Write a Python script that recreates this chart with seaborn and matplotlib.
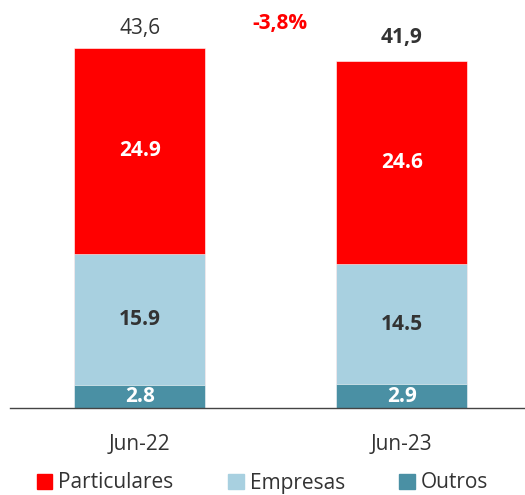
import pandas as pd
import matplotlib.pyplot as plt
import seaborn as sns
from matplotlib.patches import Patch

periods = ['Jun-22', 'Jun-23']
particulares = [24.9, 24.6]
empresas = [15.9, 14.5]
outros = [2.8, 2.9]
totals = ['43,6', '41,9']
change = '-3,8%'

sns.set_style('white')
plt.rcParams['font.family'] = ['Open Sans', 'DejaVu Sans']

red, light, teal, dark = '#FF0000', '#A8D0E0', '#4A90A4', '#333333'

df = pd.DataFrame({'period': periods, 'Particulares': particulares,
                   'Empresas': empresas, 'Outros': outros})
df['lvl2'] = df['Empresas'] + df['Outros']
df['lvl3'] = df['lvl2'] + df['Particulares']

fig = plt.figure(figsize=(5.25, 4.95), dpi=100)
ax = fig.add_axes([10 / 525, 87 / 495, 515 / 525, 408 / 495])

sns.barplot(data=df, x='period', y='lvl3', color=red, width=0.5, ax=ax,
            saturation=1, edgecolor='white', linewidth=0.4)
sns.barplot(data=df, x='period', y='lvl2', color=light, width=0.5, ax=ax,
            saturation=1, edgecolor='white', linewidth=0.4)
sns.barplot(data=df, x='period', y='Outros', color=teal, width=0.5, ax=ax,
            saturation=1, edgecolor='white', linewidth=0.4)

ax.set_xlim(-0.496, 1.47)
ax.set_ylim(0, 49.4)
for s in ['top', 'right', 'left']:
    ax.spines[s].set_visible(False)
ax.spines['bottom'].set_color('#444444')
ax.spines['bottom'].set_linewidth(1)
ax.set_yticks([])
ax.set_xlabel('')
ax.set_ylabel('')
ax.tick_params(axis='x', length=0, pad=19, labelsize=15, labelcolor=dark)

for i in range(len(periods)):
    o, e, p = outros[i], empresas[i], particulares[i]
    ax.text(i, o / 2, f'{o}', ha='center', va='center', color='white',
            fontsize=15, fontweight='bold')
    ax.text(i, o + e / 2, f'{e}', ha='center', va='center', color=dark,
            fontsize=15, fontweight='bold')
    ax.text(i, o + e + p / 2, f'{p}', ha='center', va='center', color='white',
            fontsize=15, fontweight='bold')

ax.text(0, df['lvl3'][0] + 1.1, totals[0], ha='center', va='bottom',
        color=dark, fontsize=15)
ax.text(1, df['lvl3'][1] + 1.6, totals[1], ha='center', va='bottom',
        color=dark, fontsize=15, fontweight='bold')
fig.text(280 / 525, 1 - 24 / 495, change, ha='center', va='center',
         color=red, fontsize=15, fontweight='bold')

handles = [Patch(color=red, label='Particulares'),
           Patch(color=light, label='Empresas'),
           Patch(color=teal, label='Outros')]
fig.legend(handles=handles, loc='center', bbox_to_anchor=(0.5, 1 - 483 / 495),
           ncol=3, frameon=False, fontsize=15, handlelength=0.75,
           handleheight=0.75, handletextpad=0.3, columnspacing=2.6,
           labelcolor=dark)

fig.savefig('out.png', dpi=100)
